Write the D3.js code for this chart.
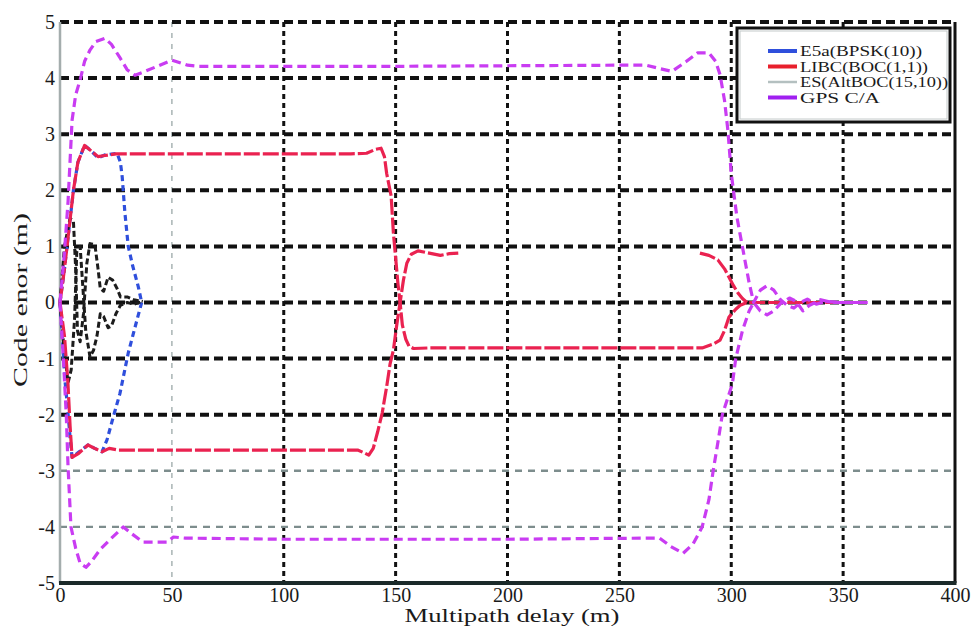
<!DOCTYPE html>
<html>
<head>
<meta charset="utf-8">
<script src="https://cdn.jsdelivr.net/npm/d3@7"></script>
<style>
  body { margin: 0; background: #fff; }
  svg text { font-family: "Liberation Serif", "Times New Roman", Times, serif !important; }
</style>
</head>
<body>
<svg></svg>
<script>
const xTicks = [0, 50, 100, 150, 200, 250, 300, 350, 400]
const yTicks = [-5, -4, -3, -2, -1, 0, 1, 2, 3, 4, 5]

const seriesNames = ["E5a(BPSK(10))", "LIBC(BOC(1,1))", "ES(AltBOC(15,10))", "GPS C/A"]

// multipath error envelopes, [delay m, error m]
const e5aUpper = [[0,0],[2,0.6],[4,1.3],[6,2.0],[8,2.5],[11,2.8],[14,2.7],[17,2.58],[20,2.63],[25.5,2.66],[27,2.5],
      [27.8,2.24],[29,1.6],[30.5,1.0],[32.5,0.65],[35,0.28],[36.5,0]]
const e5aLower = [[0,0],[1,-0.6],[2.2,-1.38],[3.2,-1.8],[4.5,-2.4],[5.4,-2.76],[8,-2.68],[12.5,-2.54],[15.5,-2.6],
      [18.8,-2.66],[21,-2.45],[23.8,-2.04],[26.8,-1.62],[30.5,-0.9],[34.4,-0.31],[36.5,0]]

const libcUpper = [[0,0],[2,0.6],[4,1.3],[6,2.0],[8,2.5],[11,2.8],[14,2.7],[17,2.6],[20,2.62],[25,2.65],[40,2.65],
      [100,2.65],[130,2.65],[137,2.66],[141,2.73],[143.5,2.75],[145,2.6],[146,2.3],[147,2.1],[148,1.9],[149,1.24],
      [150,0.8],[151,0.35],[152,0],[153,-0.4],[154.5,-0.65],[156,-0.78],[158,-0.82],[165,-0.81],[200,-0.81],
      [250,-0.81],[287,-0.81],[292,-0.74],[295,-0.67],[297,-0.5],[299,-0.26],[302,-0.12],[304,-0.05],[307,0],
      [320,0],[350,0]]
const libcLower = [[0,0],[2,-0.6],[3.5,-1.4],[4.5,-2.2],[5.4,-2.76],[8,-2.7],[12.5,-2.54],[15.5,-2.6],[18.8,-2.66],
      [22,-2.6],[26,-2.63],[40,-2.63],[100,-2.63],[133,-2.63],[136,-2.68],[138,-2.72],[140,-2.6],[142,-2.3],
      [144,-1.97],[146,-1.5],[147.5,-1.1],[149,-0.85],[150.5,-0.4],[152,0],[153.5,0.4],[155,0.7],[157,0.86],
      [160,0.92],[165,0.88],[170,0.84],[174,0.87],[178,0.88],[null,null],[286,0.88],[290,0.84],[294,0.76],
      [297,0.6],[299,0.45],[301,0.3],[303,0.17],[305,0.07],[307,0]]

const altbocUpper = [[0,0],[2,1.0],[4.5,1.5],[6,1.45],[7,0.6],[7.8,-0.5],[9,-0.7],[10.5,-0.2],[12,0.7],[13.4,1.05],
      [15.6,1.03],[17,0.6],[18,0.25],[19.5,0.2],[21.5,0.45],[23.5,0.4],[25.5,0.25],[27,0.1],[30,0.1],[33,0.05],[37,0.02]]
const altbocLower = [[0,0],[1.5,-0.7],[3.6,-1.43],[5,-1.2],[6.5,-0.3],[7.5,0.9],[9,1.0],[10,0.4],[11.5,-0.5],
      [13.4,-0.97],[15,-0.85],[16.5,-0.6],[18,-0.2],[19.5,-0.25],[21.5,-0.45],[23,-0.42],[25,-0.2],[27,-0.05],
      [30,0],[33,-0.03],[37,0.02]]

const gpsUpper = [[0,0],[2,0.9],[3.6,1.8],[5.4,3.25],[7,3.7],[9,3.97],[11,4.3],[13.4,4.5],[16,4.65],[20,4.71],
      [23,4.6],[27,4.35],[30,4.15],[33.5,4.05],[38,4.12],[44,4.22],[50,4.32],[54,4.27],[57,4.23],[62,4.21],
      [100,4.21],[150,4.21],[200,4.22],[250,4.23],[262,4.23],[268,4.17],[273.5,4.12],[280,4.3],[285,4.45],
      [290,4.45],[293,4.3],[295,4.06],[297,3.6],[298.5,3.07],[300,2.3],[302.5,1.53],[305,0.99],[308,0.35],
      [310,0],[313,0.22],[316,0.3],[319,0.22],[322,0.05],[325,-0.05],[328,-0.1],[331,0],[334,0.06],[338,-0.03],
      [342,0.02],[350,0],[361,0]]
const gpsLower = [[0,0],[1.5,-1.0],[2.8,-2.0],[3.6,-2.93],[4.9,-4.0],[7,-4.38],[9,-4.65],[11.6,-4.72],[14,-4.62],
      [18,-4.4],[23,-4.2],[28.3,-4.0],[32,-4.12],[37,-4.27],[48,-4.27],[50.7,-4.18],[56,-4.2],[100,-4.22],
      [200,-4.22],[262,-4.2],[268,-4.2],[273,-4.35],[278.5,-4.47],[283,-4.3],[287,-4.0],[290,-3.52],[292,-2.98],
      [294,-2.5],[296,-2.0],[300.5,-1.45],[302,-1.0],[305,-0.5],[308,-0.15],[310,0],[313,-0.15],[316,-0.22],
      [319,-0.15],[322,-0.02],[326,0.08],[329,0.02],[332,-0.15],[335,-0.05],[340,0.05],[345,0],[361,0]]

const width = 976
const height = 635

const svg = d3.select("svg")
      .attr("width", width)
      .attr("height", height)

const x = d3.scaleLinear().domain([0, 400]).range([60, 955])
const y = d3.scaleLinear().domain([-5, 5]).range([583, 22])

// grid
const grid = svg.append("g")

grid.selectAll("line.gx")
      .data(xTicks.filter(d => d > 0 && d < 400))
      .join("line")
      .attr("x1", d => x(d)).attr("x2", d => x(d))
      .attr("y1", y(5)).attr("y2", y(-5))
      .attr("stroke", d => d == 50 ? "#aeb8b8" : "#111")
      .attr("stroke-width", d => d == 50 ? 1.6 : 3)
      .attr("stroke-dasharray", d => d == 50 ? "5,6" : "5,4")

grid.selectAll("line.gy")
      .data(yTicks.filter(d => d > -5))
      .join("line")
      .attr("x1", x(0)).attr("x2", x(400))
      .attr("y1", d => y(d)).attr("y2", d => y(d))
      .attr("stroke", d => (d == -3 || d == -4) ? "#7d8d8d" : "#111")
      .attr("stroke-width", d => (d == -3 || d == -4) ? 2.4 : 4)
      .attr("stroke-dasharray", d => (d == -3 || d == -4) ? "7,6" : "9,5")

// frame
svg.append("line").attr("x1", x(0)).attr("x2", x(0)).attr("y1", y(5)).attr("y2", y(-5))
      .attr("stroke", "#a4adad").attr("stroke-width", 2.5)
svg.append("line").attr("x1", x(400)).attr("x2", x(400)).attr("y1", y(5)).attr("y2", y(-5))
      .attr("stroke", "#111").attr("stroke-width", 3)
svg.append("line").attr("x1", x(0) - 1).attr("x2", x(400) + 1.5).attr("y1", y(-5)).attr("y2", y(-5))
      .attr("stroke", "#1b2a2a").attr("stroke-width", 4)

// curves
const line = d3.line()
      .defined(d => d[0] != null)
      .x(d => x(d[0]))
      .y(d => y(d[1]))

const curves = [
      { data: e5aUpper, color: "#2f4fdc", dash: "6,4", w: 3.2 },
      { data: e5aLower, color: "#2f4fdc", dash: "6,4", w: 3.2 },
      { data: altbocUpper, color: "#1c1c1c", dash: "6,3", w: 3 },
      { data: altbocLower, color: "#1c1c1c", dash: "6,3", w: 3 },
      { data: libcUpper, color: "#ea2250", dash: "16,3", w: 3.2 },
      { data: libcLower, color: "#ea2250", dash: "16,3", w: 3.2 },
      { data: gpsUpper, color: "#c93cf2", dash: "9,5", w: 3.2 },
      { data: gpsLower, color: "#c93cf2", dash: "9,5", w: 3.2 }]

svg.append("g")
      .attr("fill", "none")
      .selectAll("path")
      .data(curves)
      .join("path")
      .attr("d", d => line(d.data))
      .attr("stroke", d => d.color)
      .attr("stroke-width", d => d.w)
      .attr("stroke-dasharray", d => d.dash)
      .attr("stroke-linejoin", "round")

// axes
const xAxis = svg.append("g")
      .attr("transform", `translate(0,${y(-5)})`)
      .call(d3.axisBottom(x).tickValues(xTicks).tickSize(0).tickPadding(5).tickFormat(d => String(d)))
xAxis.select(".domain").remove()
xAxis.selectAll("text")
      .attr("font-size", 20)
      .attr("fill", "#1a1a1a")

const yAxis = svg.append("g")
      .attr("transform", `translate(${x(0)},0)`)
      .call(d3.axisLeft(y).tickValues(yTicks).tickSize(0).tickPadding(5).tickFormat(d => String(d)))
yAxis.select(".domain").remove()
yAxis.selectAll("text")
      .attr("font-size", 20)
      .attr("fill", "#1a1a1a")

svg.append("text")
      .attr("x", 512).attr("y", 622)
      .attr("text-anchor", "middle")
      .attr("font-size", 18)
      .attr("fill", "#1a1a1a")
      .attr("textLength", 215)
      .attr("lengthAdjust", "spacingAndGlyphs")
      .text("Multipath delay (m)")

svg.append("text")
      .attr("transform", "translate(27,300) rotate(-90)")
      .attr("text-anchor", "middle")
      .attr("font-size", 19)
      .attr("fill", "#1a1a1a")
      .attr("textLength", 174)
      .attr("lengthAdjust", "spacingAndGlyphs")
      .text("Code enor (m)")

// legend
const legend = svg.append("g").attr("transform", "translate(737,28)")
legend.append("rect")
      .attr("width", 213).attr("height", 94)
      .attr("fill", "#fff")
      .attr("stroke", "#111").attr("stroke-width", 3)
legend.append("rect")
      .attr("x", 3).attr("y", 3).attr("width", 207).attr("height", 88)
      .attr("fill", "none")
      .attr("stroke", "#c4caca").attr("stroke-width", 1)

const legendColors = ["#2f4fdc", "#e8202c", "#b4c0c0", "#a020f0"]
const item = legend.selectAll("g.item")
      .data(seriesNames)
      .join("g")
      .attr("transform", (d, i) => `translate(0,${23 + i * 15.5})`)
item.append("line")
      .attr("x1", 31).attr("x2", 60)
      .attr("stroke", (d, i) => legendColors[i])
      .attr("stroke-width", (d, i) => i == 2 ? 2.5 : 4)
item.append("text")
      .attr("x", 63).attr("dy", "0.35em")
      .attr("font-size", 14.5)
      .attr("fill", "#1a1a1a")
      .attr("textLength", (d, i) => [122, 128, 148, 80][i])
      .attr("lengthAdjust", "spacingAndGlyphs")
      .text(d => d)
</script>
</body>
</html>
